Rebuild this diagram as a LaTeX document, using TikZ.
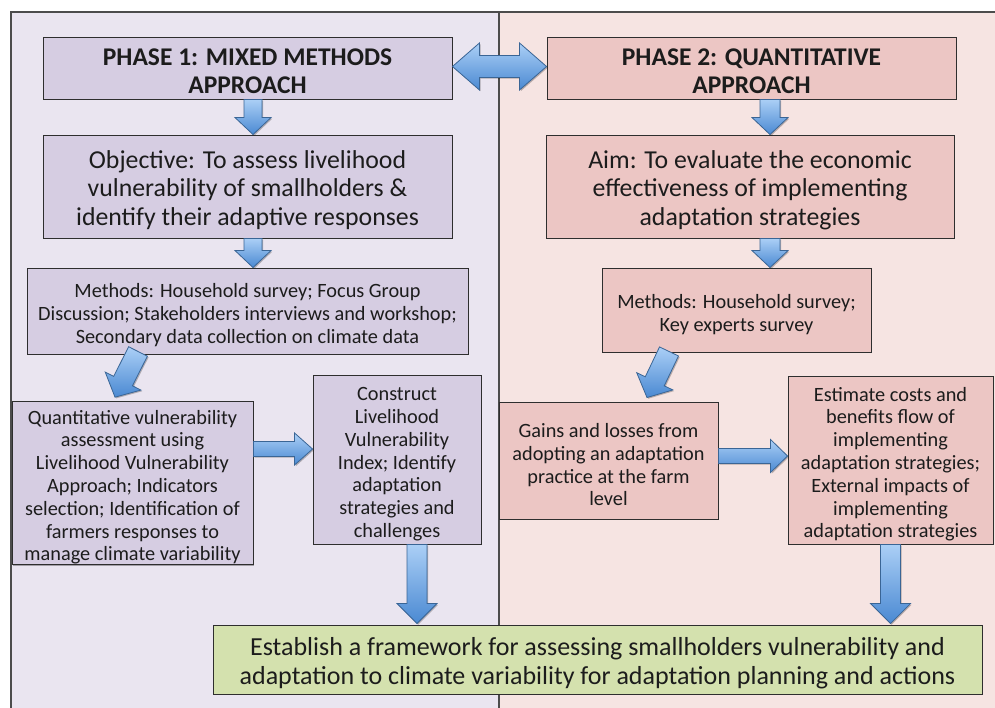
\documentclass[tikz,border=0pt]{standalone}
\usepackage{fontspec}
\setmainfont{Carlito}
\usetikzlibrary{calc,shadows}

\definecolor{panelL}{HTML}{EAE5F0}
\definecolor{panelR}{HTML}{F6E4E2}
\definecolor{boxL}{HTML}{D6CDE2}
\definecolor{boxR}{HTML}{ECC6C4}
\definecolor{boxG}{HTML}{D4E1AE}
\definecolor{edge}{HTML}{2E2E2E}
\definecolor{txt}{HTML}{1C1C1C}
\definecolor{arrLight}{HTML}{ABCFF6}
\definecolor{arrDark}{HTML}{4A89D2}
\definecolor{arrEdge}{HTML}{3A6595}

% block arrow from #1 (tail) to #2 (tip): shaft half width, head half width, head length
\newcommand\blockarr[5]{%
  \coordinate (ah) at ($(#2)!#5!(#1)$);
  \draw[blockarrow] ($(#1)!#3!90:(#2)$) -- ($(ah)!#3!90:(#2)$) -- ($(ah)!#4!90:(#2)$) -- (#2)
    -- ($(ah)!#4!-90:(#2)$) -- ($(ah)!#3!-90:(#2)$) -- ($(#1)!#3!-90:(#2)$) -- cycle;}

% double-headed block arrow between #1 and #2
\newcommand\dblarr[5]{%
  \coordinate (ha) at ($(#1)!#5!(#2)$);
  \coordinate (hb) at ($(#2)!#5!(#1)$);
  \draw[blockarrow] (#1) -- ($(ha)!#4!90:(#2)$) -- ($(ha)!#3!90:(#2)$) -- ($(hb)!#3!-90:(#1)$)
    -- ($(hb)!#4!-90:(#1)$) -- (#2) -- ($(hb)!#4!90:(#1)$) -- ($(hb)!#3!90:(#1)$)
    -- ($(ha)!#3!-90:(#2)$) -- ($(ha)!#4!-90:(#2)$) -- cycle;}

% invisible strut that sets the height of a first text line (height given by the font style)
\newcommand\tst{\rule{0pt}{\tsh}}
\def\tsh{0pt}

\begin{document}
\begin{tikzpicture}[x=1pt,y=-1pt,
  panel/.style={draw=black!70, line width=1.1pt},
  box/.style={draw=edge, line width=0.9pt, align=center, inner sep=0pt, text=txt,
    drop shadow={shadow xshift=1.3pt, shadow yshift=-1.3pt, opacity=0.3, fill=black}},
  lbox/.style={box, fill=boxL},
  rbox/.style={box, fill=boxR},
  gbox/.style={box, fill=boxG},
  titlefont/.style={font=\fontsize{25.5}{28}\selectfont\bfseries\def\tsh{22.5pt}},
  bigfont/.style={font=\fontsize{25.8}{28.5}\selectfont\def\tsh{24.5pt}},
  smallfont/.style={font=\fontsize{20.3}{22.8}\selectfont\def\tsh{22.5pt}},
  endfont/.style={font=\fontsize{26}{28.5}\selectfont\def\tsh{25.5pt}},
  blockarrow/.style={draw=arrEdge, line width=0.8pt, line join=miter,
    top color=arrLight, bottom color=arrDark,
    drop shadow={shadow xshift=1.2pt, shadow yshift=-1.2pt, opacity=0.25, fill=black}}
]
\useasboundingbox (0,0) rectangle (995,708);
\fill[white] (0,0) rectangle (995,708);

% the two phase panels
\draw[panel, fill=panelL] (11,12) rectangle (499,714);
\draw[panel, fill=panelR] (499,12) rectangle (1001,714);

% phase 1 column
\node[lbox, titlefont, minimum width=409, minimum height=62] (p1) at (247.5,68)
  {\tst PHASE 1: MIXED METHODS\\APPROACH};
\node[lbox, bigfont, minimum width=409, minimum height=103] (obj) at (247.5,186.5)
  {\tst Objective: To assess livelihood\\vulnerability of smallholders \&\\identify their adaptive responses};
\node[lbox, smallfont, minimum width=441, minimum height=86] (m1) at (247.5,311)
  {\tst Methods: Household survey; Focus Group\\Discussion; Stakeholders interviews and workshop;\\Secondary data collection on climate data};
\node[lbox, smallfont, minimum width=241, minimum height=160] (q) at (132.5,483)
  {\tst Quantitative vulnerability\\assessment using\\Livelihood Vulnerability\\Approach; Indicators\\selection; Identification of\\farmers responses to\\manage climate variability};
\node[lbox, smallfont, minimum width=168, minimum height=169] (c) at (397,459.5)
  {\tst Construct\\Livelihood\\Vulnerability\\Index; Identify\\adaptation\\strategies and\\challenges};

% phase 2 column
\node[rbox, titlefont, minimum width=409, minimum height=62] (p2) at (751.5,68)
  {\tst PHASE 2: QUANTITATIVE\\APPROACH};
\node[rbox, bigfont, minimum width=408, minimum height=103] (aim) at (750,186.5)
  {\tst Aim: To evaluate the economic\\effectiveness of implementing\\adaptation strategies};
\node[rbox, smallfont, minimum width=269, minimum height=84] (m2) at (736.5,310)
  {\tst Methods: Household survey;\\Key experts survey};
\node[rbox, smallfont, minimum width=219, minimum height=117] (g) at (608.5,460.5)
  {\tst Gains and losses from\\adopting an adaptation\\practice at the farm\\level};
\node[rbox, smallfont, minimum width=205, minimum height=168] (e) at (890.5,460)
  {\tst Estimate costs and\\benefits flow of\\implementing\\adaptation strategies;\\External impacts of\\implementing\\adaptation strategies};

% joint outcome
\node[gbox, endfont, minimum width=769, minimum height=69] (f) at (597.5,659.5)
  {\tst Establish a framework for assessing smallholders vulnerability and\\adaptation to climate variability for adaptation planning and actions};

% connector end points
\coordinate (d1) at ($(p1.east)+(0,-1.5)$);
\coordinate (d2) at ($(p2.west)+(0,-1.5)$);
\coordinate (a1t) at ($(p1.south)+(5.5,0)$);
\coordinate (a1h) at ($(obj.north)+(5.5,0)$);
\coordinate (a2t) at ($(obj.south)+(5.5,0)$);
\coordinate (a2h) at ($(m1.north)+(5.5,0)$);
\coordinate (a3t) at ($(p2.south)+(18.5,0)$);
\coordinate (a3h) at ($(aim.north)+(20,0)$);
\coordinate (a4t) at ($(aim.south)+(20,0)$);
\coordinate (a4h) at ($(m2.north)+(33.5,0)$);
\coordinate (a5t) at ($(m1.south)+(-109.5,-3)$);
\coordinate (a5h) at ($(q.north)+(-17.5,-4)$);
\coordinate (a6t) at ($(m2.south)+(-67.5,-1)$);
\coordinate (a6h) at ($(g.north)+(38.5,-4)$);
\coordinate (a7t) at ($(q.east)+(0,-34)$);
\coordinate (a7h) at ($(c.west)+(0,-10.5)$);
\coordinate (a8t) at ($(g.east)+(0,-4.5)$);
\coordinate (a8h) at ($(e.west)+(0,-4)$);
\coordinate (a9t) at ($(c.south)+(20,0)$);
\coordinate (a9h) at ($(f.north)+(-180.5,-1)$);
\coordinate (a10t) at (e.south);
\coordinate (a10h) at ($(f.north)+(293,-1)$);

% block arrows
\dblarr{d1}{d2}{11pt}{23.5pt}{27pt}
\blockarr{a1t}{a1h}{9pt}{18pt}{17pt}
\blockarr{a2t}{a2h}{9pt}{18pt}{17pt}
\blockarr{a3t}{a3h}{10pt}{18pt}{17pt}
\blockarr{a4t}{a4h}{10pt}{18pt}{17pt}
\blockarr{a5t}{a5h}{10.5pt}{20pt}{18pt}
\blockarr{a6t}{a6h}{10.5pt}{20pt}{18pt}
\blockarr{a7t}{a7h}{7.5pt}{16pt}{18pt}
\blockarr{a8t}{a8h}{7.5pt}{16.5pt}{17pt}
\blockarr{a9t}{a9h}{10pt}{20pt}{20pt}
\blockarr{a10t}{a10h}{10pt}{20pt}{20pt}
\end{tikzpicture}
\end{document}
